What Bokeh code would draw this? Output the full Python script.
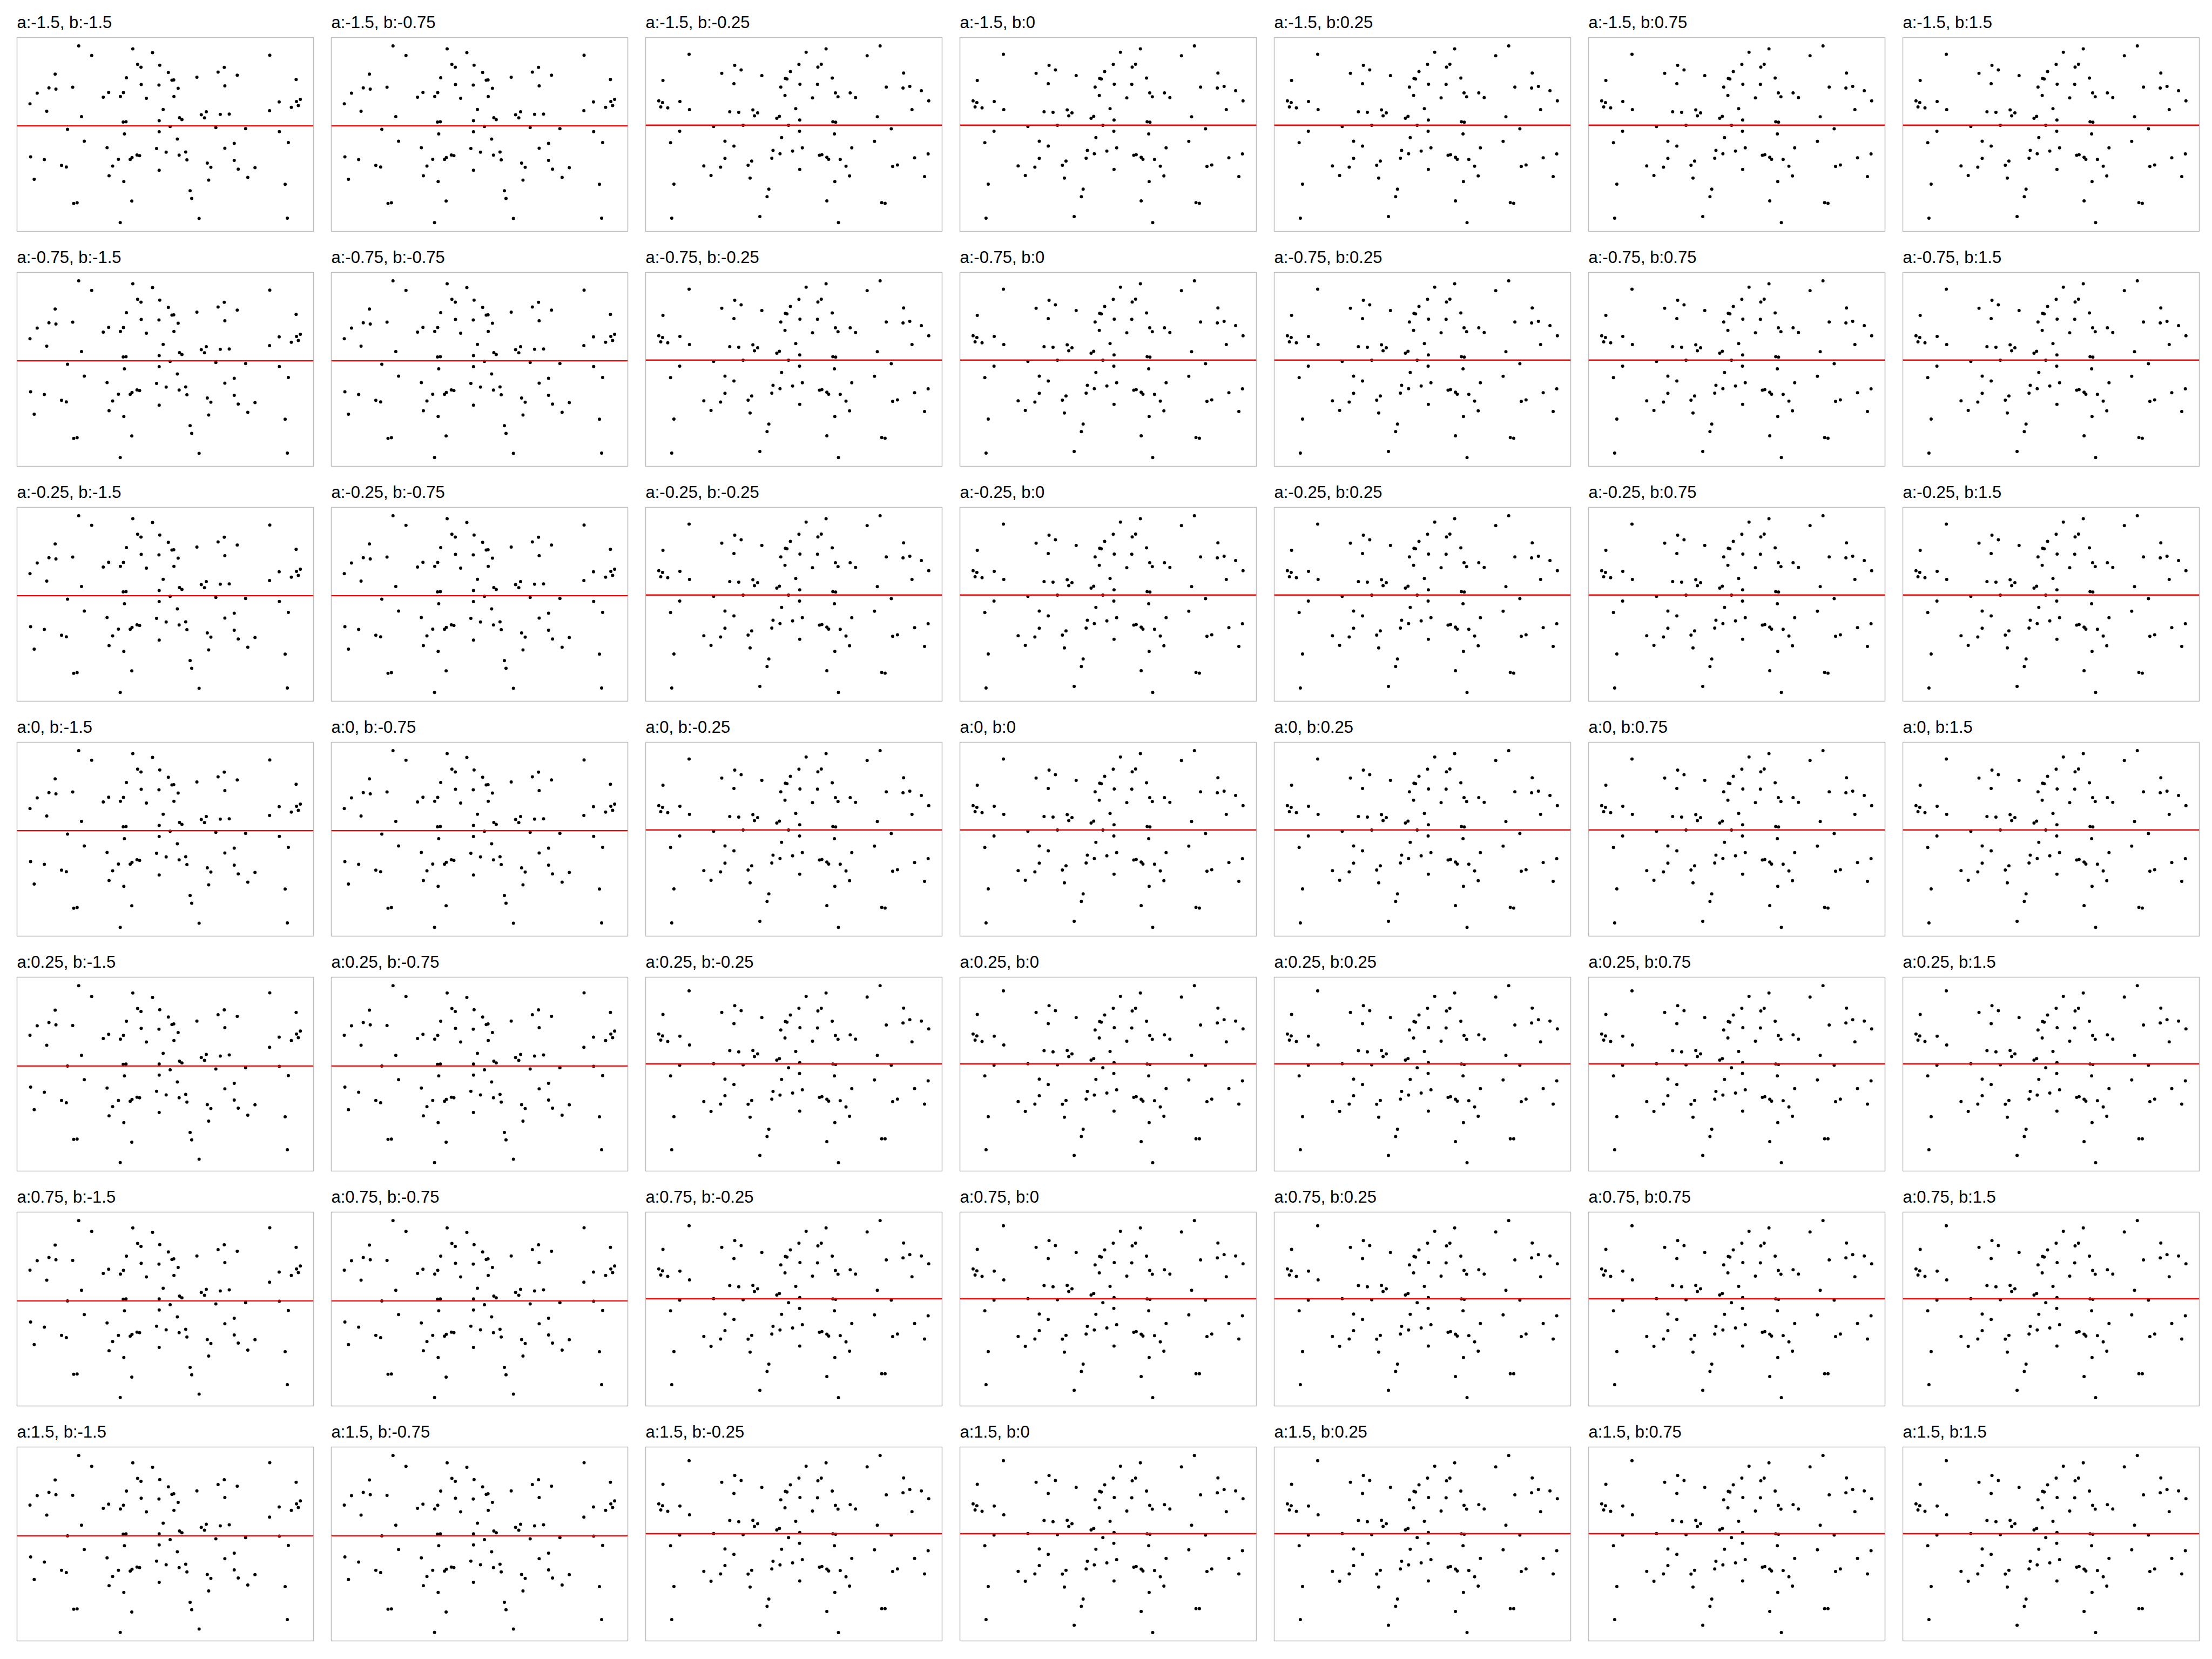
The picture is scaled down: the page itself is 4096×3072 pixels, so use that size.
from bokeh.plotting import figure
from bokeh.layouts import gridplot
from bokeh.models import Range1d, Span
from bokeh.embed import file_html
from bokeh.resources import INLINE

# panel parameters
a_labels = ["-1.5", "-0.75", "-0.25", "0", "0.25", "0.75", "1.5"]
b_labels = ["-1.5", "-0.75", "-0.25", "0", "0.25", "0.75", "1.5"]

# point set used for b <= -0.75 (read from a:-1.5 and a:1.5 panels)
xA = [339, 610, 709, 404, 1296, 634, 651, 745, 1068, 1037,
      788, 221, 931, 1133, 578, 806, 815, 1428, 652, 741,
      1071, 190, 225, 309, 837, 131, 489, 563, 462, 548,
      816, 678, 95, 1343, 1449, 1430, 1439, 1404, 1295, 179,
      762, 353, 978, 953, 969, 1048, 1093, 844, 856, 562,
      576, 742, 797, 1026, 1175, 283, 1344, 742, 568, 833,
      367, 1389, 1118, 481, 729, 1071, 777, 875, 98, 167,
      842, 631, 644, 606, 597, 538, 881, 1118, 253, 277,
      509, 983, 1001, 1138, 1222, 742, 491, 116, 1186, 990,
      565, 1373, 897, 905, 605, 314, 331, 942, 1384, 547]
yA_top = [224, 243, 267, 284, 283, 340, 358, 345, 359, 388,
          391, 401, 420, 408, 424, 439, 437, 435, 466, 469,
          474, 487, 495, 483, 490, 520, 516, 517, 545, 541,
          541, 552, 587, 575, 559, 572, 598, 609, 630, 633,
          622, 667, 637, 655, 675, 653, 651, 674, 686, 701,
          699, 692, 729, 735, 742, 746, 761, 762, 775, 807,
          821, 829, 834, 861, 866, 865, 889, 888, 919, 936,
          908, 907, 911, 923, 935, 934, 937, 941, 972, 982,
          976, 958, 984, 996, 986, 1002, 1037, 1059, 1047, 1064,
          1073, 1090, 1131, 1179, 1195, 1210, 1206, 1304, 1302, 1330]
yA_bot = [231, 277, 305, 299, 276, 374, 392, 381, 382, 413,
          427, 384, 452, 423, 453, 474, 470, 398, 498, 503,
          494, 462, 476, 480, 524, 482, 535, 542, 561, 565,
          574, 583, 541, 553, 515, 533, 556, 574, 616, 603,
          654, 667, 661, 680, 698, 671, 664, 703, 714, 722,
          721, 721, 757, 752, 744, 733, 735, 790, 795, 833,
          819, 793, 841, 871, 891, 876, 914, 911, 865, 897,
          932, 928, 932, 942, 954, 949, 959, 946, 949, 963,
          987, 975, 999, 997, 976, 1024, 1045, 1006, 1041, 1078,
          1087, 1051, 1149, 1195, 1209, 1192, 1190, 1316, 1257, 1337]

# point set used for b >= -0.25
xB = [241, 828, 928, 1199, 1134, 470, 502, 792, 887, 904,
      405, 749, 606, 1317, 959, 724, 732, 110, 466, 797,
      885, 701, 1230, 1314, 1348, 1406, 975, 1049, 988, 1076,
      860, 722, 89, 108, 195, 99, 134, 243, 1443, 1359,
      445, 490, 561, 585, 569, 776, 681, 694, 796, 1185,
      962, 976, 364, 512, 740, 1255, 194, 795, 970, 705,
      148, 421, 466, 1171, 809, 1057, 662, 760, 697, 1440,
      895, 907, 932, 941, 999, 656, 421, 1372, 555, 537,
      315, 399, 1028, 1262, 1286, 796, 351, 547, 1046, 1422,
      972, 165, 641, 632, 932, 1207, 1224, 154, 596, 990]
yB_top = [277, 264, 243, 224, 286, 346, 375, 340, 357, 339,
          396, 385, 410, 394, 425, 428, 431, 441, 461, 464,
          465, 482, 482, 488, 478, 505, 518, 518, 543, 548,
          550, 534, 568, 579, 572, 606, 612, 623, 568, 623,
          637, 640, 625, 643, 662, 617, 677, 665, 688, 668,
          699, 702, 729, 721, 721, 743, 758, 758, 775, 798,
          830, 821, 851, 822, 862, 862, 878, 882, 899, 900,
          909, 905, 921, 934, 935, 927, 928, 925, 945, 971,
          975, 983, 977, 979, 969, 997, 1035, 1051, 1038, 1042,
          1073, 1089, 1121, 1168, 1194, 1205, 1209, 1302, 1292, 1330]
yB_bot = [263, 298, 277, 231, 302, 356, 387, 372, 389, 372,
          398, 414, 430, 371, 453, 455, 459, 411, 468, 494,
          495, 508, 477, 464, 444, 452, 543, 538, 566, 565,
          578, 558, 533, 545, 547, 571, 580, 602, 501, 582,
          637, 645, 636, 657, 674, 642, 696, 687, 712, 667,
          721, 723, 719, 726, 744, 728, 728, 780, 795, 817,
          795, 815, 849, 820, 882, 874, 892, 902, 915, 826,
          929, 925, 941, 953, 950, 940, 919, 874, 949, 972,
          955, 971, 989, 956, 940, 1015, 1017, 1053, 1047, 971,
          1087, 1050, 1128, 1174, 1206, 1188, 1188, 1257, 1292, 1338]

# reference level (zero line) and plotted extent of each reading
sets = {
    ("A", "top"): dict(x=xA, y=yA_top, zero=725, xr=(30, 1515), yr=(172, 1385)),
    ("A", "bot"): dict(x=xA, y=yA_bot, zero=733, xr=(30, 1515), yr=(178, 1390)),
    ("B", "top"): dict(x=xB, y=yB_top, zero=720, xr=(23, 1510), yr=(172, 1385)),
    ("B", "bot"): dict(x=xB, y=yB_bot, zero=720, xr=(23, 1510), yr=(178, 1390)),
}

FONT = "Liberation Sans"
figs = []
for r, a in enumerate(a_labels):
    for c, b in enumerate(b_labels):
        key = ("A" if c < 2 else "B", "top" if r <= 3 else "bot")
        s = sets[key]
        resid = [s["zero"] - v for v in s["y"]]
        p = figure(frame_width=549, frame_height=359,
                   min_border_left=31, min_border_right=2,
                   min_border_top=69, min_border_bottom=7,
                   x_range=Range1d(*s["xr"]),
                   y_range=Range1d(s["zero"] - s["yr"][1], s["zero"] - s["yr"][0]),
                   x_axis_location=None, y_axis_location=None,
                   toolbar_location=None, output_backend="svg",
                   title=f"a:{a}, b:{b}")
        p.xgrid.visible = False
        p.ygrid.visible = False
        p.outline_line_color = "#bdbdbd"
        p.outline_line_width = 1.5
        p.background_fill_color = "white"
        p.border_fill_color = "white"
        p.title.text_font = FONT
        p.title.text_font_size = "31px"
        p.title.text_font_style = "normal"
        p.title.text_color = "black"
        p.title.align = "left"
        p.title.offset = 0
        p.title.standoff = 22
        p.add_layout(Span(location=0, dimension="width", line_color="#ff0000", line_width=2.4))
        p.scatter(s["x"], resid, size=6, color="black", line_color=None)
        figs.append(p)

grid = gridplot(figs, ncols=7, toolbar_location=None)
open("out.html", "w").write(file_html(grid, INLINE))
